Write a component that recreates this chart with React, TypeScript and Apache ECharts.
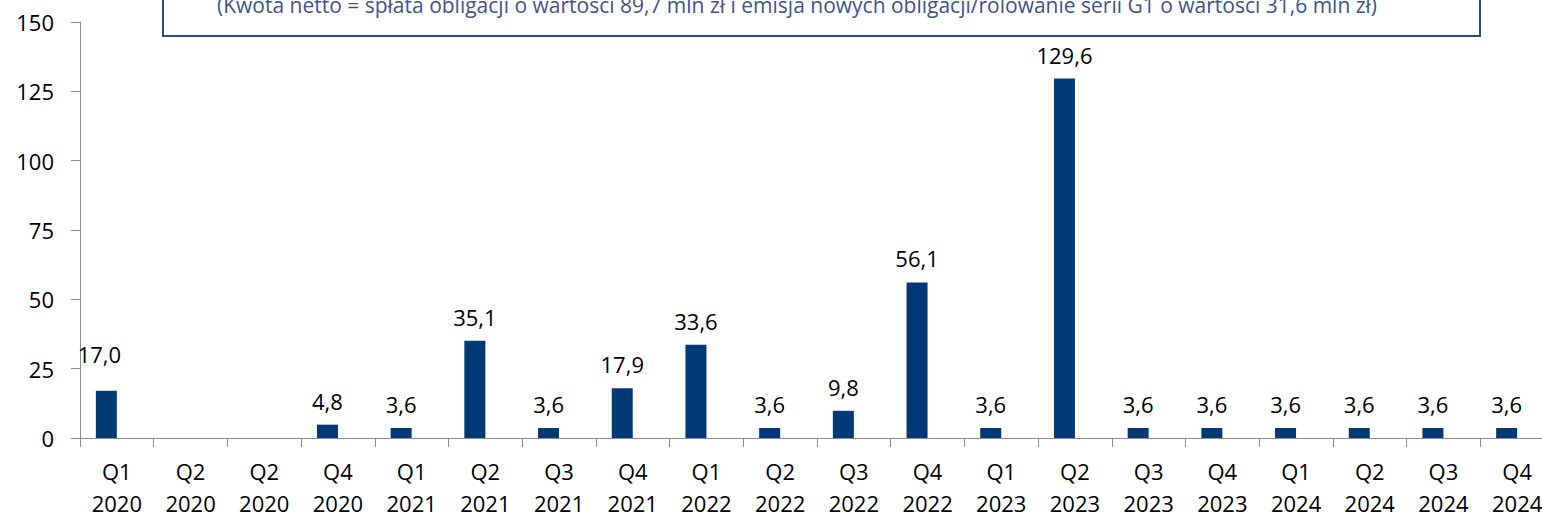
import React, { useEffect, useRef } from "react";
import * as echarts from "echarts";

const quarters = ["Q1", "Q2", "Q2", "Q4", "Q1", "Q2", "Q3", "Q4", "Q1", "Q2", "Q3", "Q4", "Q1", "Q2", "Q3", "Q4", "Q1", "Q2", "Q3", "Q4"];
const years = ["2020", "2020", "2020", "2020", "2021", "2021", "2021", "2021", "2022", "2022", "2022", "2022", "2023", "2023", "2023", "2023", "2024", "2024", "2024", "2024"];
const values: (number | null)[] = [17.0, null, null, 4.8, 3.6, 35.1, 3.6, 17.9, 33.6, 3.6, 9.8, 56.1, 3.6, 129.6, 3.6, 3.6, 3.6, 3.6, 3.6, 3.6];
const emptySecondSeries: (number | null)[] = [];
const yTicks = { min: 0, max: 150, interval: 25 };
const noteText = "(Kwota netto = spłata obligacji o wartości 89,7 mln zł i emisja nowych obligacji/rolowanie serii G1 o wartości 31,6 mln zł)";

const FONT = "'Open Sans', sans-serif";

export default function App() {
  const ref = useRef<HTMLDivElement>(null);
  useEffect(() => {
    if (!ref.current) return;
    const chart = echarts.init(ref.current, null, { renderer: "svg" });
    const categories = quarters.map((q, i) => q + "\n" + years[i]);
    const data = values.map((v, i) =>
      i === 0 && v !== null
        ? { value: v, label: { offset: [-7, -13] } }
        : v
    );
    chart.setOption({
      animation: false,
      backgroundColor: "#ffffff",
      grid: { left: 80, right: -12, top: 22, bottom: 78, containLabel: false, outerBoundsMode: "none" },
      xAxis: {
        type: "category",
        data: categories,
        boundaryGap: true,
        axisLine: { show: true, lineStyle: { color: "#8c8c8c", width: 1 } },
        axisTick: { show: true, length: 9, alignWithLabel: false, lineStyle: { color: "#8c8c8c" } },
        axisLabel: {
          interval: 0,
          color: "#000000",
          fontFamily: FONT,
          fontSize: 22,
          lineHeight: 32,
          margin: 17,
        },
      },
      yAxis: {
        type: "value",
        min: yTicks.min,
        max: yTicks.max,
        interval: yTicks.interval,
        splitLine: { show: false },
        axisLine: { show: true, lineStyle: { color: "#8c8c8c", width: 1 } },
        axisTick: { show: true, length: 9, lineStyle: { color: "#8c8c8c" } },
        axisLabel: { color: "#000000", fontFamily: FONT, fontSize: 22, margin: 26 },
      },
      series: [
        {
          type: "bar",
          data,
          barWidth: 21,
          barGap: "0%",
          itemStyle: { color: "#003a75" },
          label: {
            show: true,
            position: "top",
            distance: 13,
            color: "#000000",
            fontFamily: FONT,
            fontSize: 22,
            formatter: (p: any) => (p.value == null ? "" : Number(p.value).toFixed(1).replace(".", ",")),
          },
        },
        {
          type: "bar",
          data: emptySecondSeries,
          barWidth: 21,
          barGap: "0%",
          itemStyle: { color: "#003a75" },
        },
      ],
      graphic: [
        {
          type: "rect",
          z: 100,
          shape: { x: 163, y: -10, width: 1317, height: 46 },
          style: { fill: "#ffffff", stroke: "#2b4c8a", lineWidth: 2 },
        },
        {
          type: "text",
          z: 101,
          x: 797,
          y: 15,
          style: {
            text: noteText,
            fill: "#405487",
            font: "21px 'Open Sans', sans-serif",
            textAlign: "center",
            textVerticalAlign: "bottom",
          },
        },
      ],
    });
    return () => chart.dispose();
  }, []);
  return <div ref={ref} style={{ position: "absolute", left: 0, top: 0, width: 1542, height: 516 }} />;
}
